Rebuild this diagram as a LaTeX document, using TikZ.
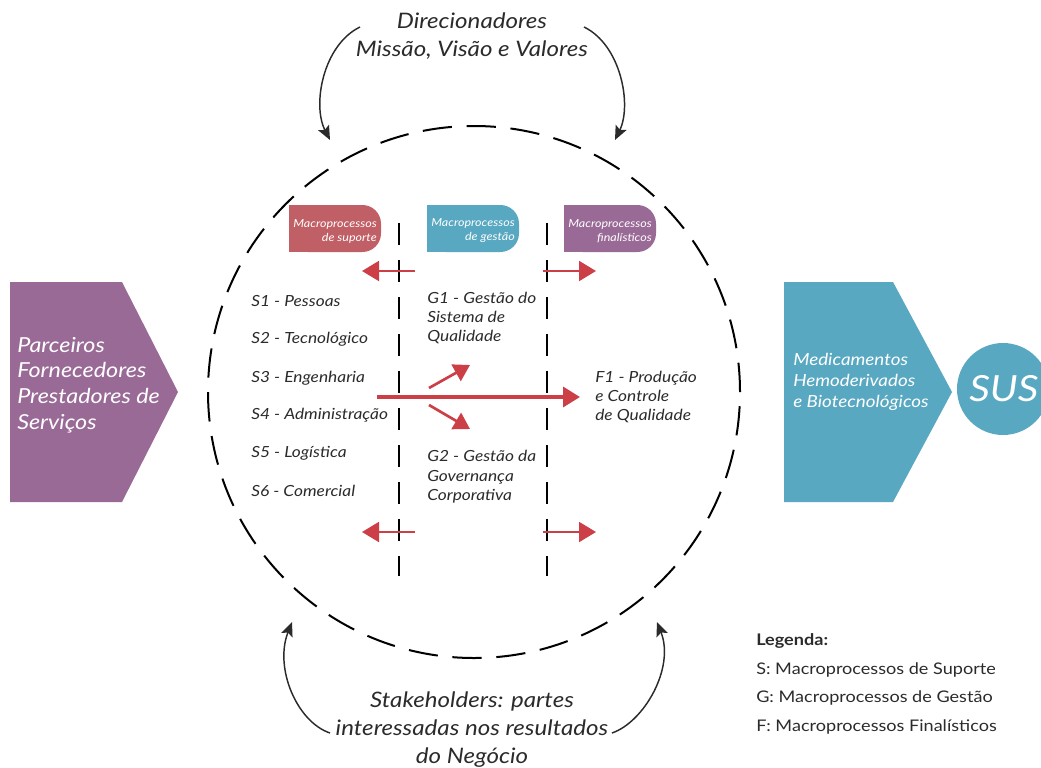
\documentclass[tikz,border=0pt]{standalone}
\usepackage{fontspec}
\setmainfont{Lato}[FakeStretch=1.13]
\usetikzlibrary{arrows.meta}
\definecolor{cpurple}{HTML}{9A6A97}
\definecolor{cblue}{HTML}{58A8C2}
\definecolor{cred}{HTML}{C06066}
\definecolor{carrow}{HTML}{CC3F47}
\definecolor{ctext}{HTML}{2B2B2B}
\begin{document}
\begin{tikzpicture}[x=0.75pt,y=-0.75pt,
  txt/.style={font=\itshape\fontsize{11.5}{14.6}\selectfont, text=ctext, anchor=west, inner sep=0pt, align=left},
  tagtxt/.style={font=\itshape\fontsize{8.3}{10.5}\selectfont, text=white, align=right, anchor=east, inner sep=0pt},
  vline/.style={line width=1.5pt, dash pattern=on 16.5pt off 11.25pt},
  redsmall/.style={draw=carrow, line width=1.5pt, -{Triangle[length=12.75pt,width=15pt]}},
  redbig/.style={draw=carrow, line width=2.6pt, -{Triangle[length=12.75pt,width=15pt]}},
  reddiag/.style={draw=carrow, line width=2pt, -{Triangle[length=12pt,width=14pt]}},
  curve/.style={draw=ctext, line width=1.1pt, -{Stealth[length=10.5pt,width=9pt,inset=2pt]}},
  big/.style={font=\itshape\fontsize{16}{21}\selectfont, text=ctext, align=center, inner sep=0pt}
]
\useasboundingbox (0,0) rectangle (1041,767);

% dashed ring
\node[draw=black, circle, line width=1.5pt, dash pattern=on 22pt off 11pt, minimum size=399pt, inner sep=0pt] (ring) at (474,392) {};

% left pentagon
\fill[cpurple] (10,282) -- (122,282) -- (178,392) -- (122,502) -- (10,502) -- cycle;
\node[font=\itshape\fontsize{15.5}{19.3}\selectfont, text=white, align=left, anchor=west, inner sep=0pt] (parc) at (17,385) {Parceiros\\Fornecedores\\Prestadores de\\Serviços};

% right pentagon
\fill[cblue] (784,282) -- (893,282) -- (952,392) -- (893,502) -- (784,502) -- cycle;
\node[font=\itshape\fontsize{12.5}{15.75}\selectfont, text=white, align=left, anchor=west, inner sep=0pt] (med) at (793,382) {Medicamentos\\Hemoderivados\\e Biotecnológicos};

% SUS
\node[circle, fill=cblue, minimum size=69pt, inner sep=0pt] (sus) at (1003,389) {};
\node[font=\itshape\fontsize{27}{32}\selectfont, text=white, anchor=west, inner sep=0pt] (sustxt) at (969,389) {SUS};

% tags (square left corners, rounded right corners)
\fill[cred, rounded corners=14pt] (289,205) rectangle (381,252);
\fill[cred] (289,205) rectangle (330,252);
\node[tagtxt] (t1t) at (377,231) {Macroprocessos\\de suporte};
\fill[cblue, rounded corners=14pt] (427,205) rectangle (519,252);
\fill[cblue] (427,205) rectangle (468,252);
\node[tagtxt] (t2t) at (515,231) {Macroprocessos\\de gestão};
\fill[cpurple, rounded corners=14pt] (564,205) rectangle (656,252);
\fill[cpurple] (564,205) rectangle (605,252);
\node[tagtxt] (t3t) at (652,231) {Macroprocessos\\finalísticos};

% vertical dashed lines
\coordinate (v1a) at (399,223); \coordinate (v1b) at (399,576);
\coordinate (v2a) at (547,223); \coordinate (v2b) at (547,576);
\draw[vline] (v1a) -- (v1b);
\draw[vline] (v2a) -- (v2b);

% small red arrows
\coordinate (a1s) at (415,271); \coordinate (a1e) at (362,271);
\coordinate (a2s) at (543,271); \coordinate (a2e) at (596,271);
\coordinate (a3s) at (415,532); \coordinate (a3e) at (362,532);
\coordinate (a4s) at (543,532); \coordinate (a4e) at (596,532);
\draw[redsmall] (a1s) -- (a1e);
\draw[redsmall] (a2s) -- (a2e);
\draw[redsmall] (a3s) -- (a3e);
\draw[redsmall] (a4s) -- (a4e);

% main arrow and diagonals
\coordinate (ms) at (377,397); \coordinate (me) at (580,397);
\draw[redbig] (ms) -- (me);
\coordinate (d1s) at (429,388); \coordinate (d1e) at (470,365);
\coordinate (d2s) at (429,405); \coordinate (d2e) at (470,429);
\draw[reddiag] (d1s) -- (d1e);
\draw[reddiag] (d2s) -- (d2e);

% S list
\node[txt] (s1) at (251,301) {S1 - Pessoas};
\node[txt] (s2) at (251,339) {S2 - Tecnológico};
\node[txt] (s3) at (251,378) {S3 - Engenharia};
\node[txt] (s4) at (251,415) {S4 - Administração};
\node[txt] (s5) at (251,453) {S5 - Logística};
\node[txt] (s6) at (251,491) {S6 - Comercial};

% G and F
\node[txt] (g1) at (427,318) {G1 - Gestão do\\Sistema de\\Qualidade};
\node[txt] (g2) at (427,477) {G2 - Gestão da\\Governança\\Corporativa};
\node[txt] (f1) at (595,397) {F1 - Produção\\e Controle\\de Qualidade};

% top text and arrows
\node[big] (dir) at (472,36) {Direcionadores\\Missão, Visão e Valores};
\coordinate (tl0) at (360,27); \coordinate (tl1) at (330,140);
\coordinate (tr0) at (584,27); \coordinate (tr1) at (615,140);
\draw[curve] (tl0) .. controls (323,45) and (312,105) .. (tl1);
\draw[curve] (tr0) .. controls (621,45) and (632,105) .. (tr1);

% bottom text and arrows
\node[big] (stk) at (472,730) {Stakeholders: partes\\interessadas nos resultados\\do Negócio};
\coordinate (bl0) at (330,733); \coordinate (bl1) at (292,622);
\coordinate (br0) at (612,733); \coordinate (br1) at (657,622);
\draw[curve] (bl0) .. controls (297,722) and (274,668) .. (bl1);
\draw[curve] (br0) .. controls (644,722) and (675,668) .. (br1);

% legend
\node[font=\fontsize{12}{21.5}\selectfont, text=ctext, align=left, anchor=west, inner sep=0pt] (leg) at (756,684) {\textbf{Legenda:}\\S: Macroprocessos de Suporte\\G: Macroprocessos de Gestão\\F: Macroprocessos Finalísticos};
\end{tikzpicture}
\end{document}
